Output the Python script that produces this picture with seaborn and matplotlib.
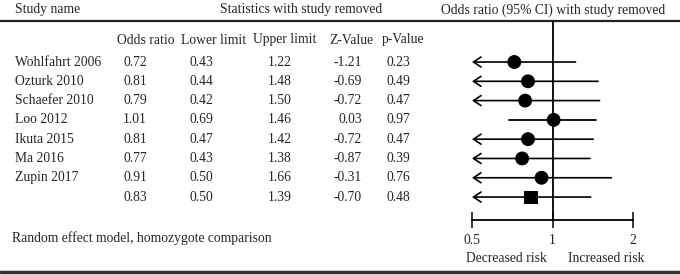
import numpy as np
import pandas as pd
import matplotlib
matplotlib.use('Agg')
import matplotlib.pyplot as plt
import seaborn as sns

# Данные
studies = ['Wohlfahrt 2006', 'Ozturk 2010', 'Schaefer 2010', 'Loo 2012',
           'Ikuta 2015', 'Ma 2016', 'Zupin 2017', '']
odds_ratio = [0.72, 0.81, 0.79, 1.01, 0.81, 0.77, 0.91, 0.83]
lower_limit = [0.43, 0.44, 0.42, 0.69, 0.47, 0.43, 0.50, 0.50]
upper_limit = [1.22, 1.48, 1.50, 1.46, 1.42, 1.38, 1.66, 1.39]
z_value = [-1.21, -0.69, -0.72, 0.03, -0.72, -0.87, -0.31, -0.70]
p_value = [0.23, 0.49, 0.47, 0.97, 0.47, 0.39, 0.76, 0.48]
kind = ['study'] * 7 + ['pooled']
x_ticks = [0.5, 1, 2]
x_tick_labels = ['0.5', '1', '2']

sns.set_style('white')
plt.rcParams['font.family'] = ['Liberation Serif', 'DejaVu Serif']
FS = 9.8

df = pd.DataFrame({'study': studies, 'or': odds_ratio, 'll': lower_limit,
                   'ul': upper_limit, 'z': z_value, 'p': p_value, 'kind': kind})
df['row'] = np.arange(len(df))

W, H = 680, 275
fig = plt.figure(figsize=(W / 100, H / 100), dpi=100)

# Фоновая ось в пикселях для таблицы
bg = fig.add_axes([0, 0, 1, 1])
bg.set_xlim(0, W)
bg.set_ylim(H, 0)
bg.axis('off')

bg.plot([0, W], [21, 21], color='#222222', lw=1.6)
bg.plot([0, W], [272, 272], color='#333333', lw=2.5)

bg.text(15, 10, 'Study name', fontsize=FS, va='center', ha='left')
bg.text(301, 10, 'Statistics with study removed', fontsize=FS, va='center', ha='center')
bg.text(553, 10, 'Odds ratio (95% CI) with study removed', fontsize=FS, va='center', ha='center')

headers = ['Odds ratio', 'Lower limit', 'Upper limit', 'Z-Value', 'p-Value']
header_x = [146, 214, 285, 351, 403]
for h, hx in zip(headers, header_x):
    bg.text(hx, 40, h, fontsize=FS, va='center', ha='center')

row_y = lambda i: 62 + i * 19.29
col_right = [147, 213, 292, 362, 410]
for i, r in df.iterrows():
    y = row_y(r['row'])
    bg.text(15, y, r['study'], fontsize=FS, va='center', ha='left')
    vals = [r['or'], r['ll'], r['ul'], r['z'], r['p']]
    for v, cx in zip(vals, col_right):
        bg.text(cx, y, f'{v:.2f}', fontsize=FS, va='center', ha='right')

bg.text(12, 238, 'Random effect model, homozygote comparison', fontsize=FS, va='center', ha='left')
bg.text(506, 258, 'Decreased risk', fontsize=FS, va='center', ha='center')
bg.text(606, 258, 'Increased risk', fontsize=FS, va='center', ha='center')

# Форест-плот
x0, x1, ytop, ybot = 472, 633, 21, 220
ax = fig.add_axes([x0 / W, (H - ybot) / H, (x1 - x0) / W, (ybot - ytop) / H])
ax.set_xscale('log')
ax.set_xlim(0.5, 2)
ax.set_ylim(8.19, -2.126)
ax.patch.set_alpha(0)

ax.axvline(1, color='black', lw=1.3, zorder=1)
for _, r in df.iterrows():
    if r['ll'] <= 0.5:
        ax.annotate('', xy=(0.5, r['row']), xytext=(r['ul'], r['row']),
                    arrowprops=dict(arrowstyle='->, head_length=0.45, head_width=0.3',
                                    lw=1.2, color='black',
                                    shrinkA=0, shrinkB=0, mutation_scale=12))
    else:
        ax.plot([r['ll'], r['ul']], [r['row'], r['row']], color='black', lw=1.3)

sns.scatterplot(data=df, x='or', y='row', style='kind', markers={'study': 'o', 'pooled': 's'},
                color='black', s=85, edgecolor='black', legend=False, ax=ax, zorder=3)

for s in ['top', 'left', 'right']:
    ax.spines[s].set_visible(False)
ax.spines['bottom'].set_linewidth(1.3)
ax.spines['bottom'].set_color('black')
ax.set_yticks([])
ax.set_xticks(x_ticks)
ax.set_xticklabels(x_tick_labels, fontsize=FS)
ax.xaxis.set_minor_locator(matplotlib.ticker.NullLocator())
ax.tick_params(axis='x', direction='inout', length=12, width=1.3, pad=4, bottom=True)
ax.set_xlabel('')
ax.set_ylabel('')

fig.savefig('out.png', dpi=100)
